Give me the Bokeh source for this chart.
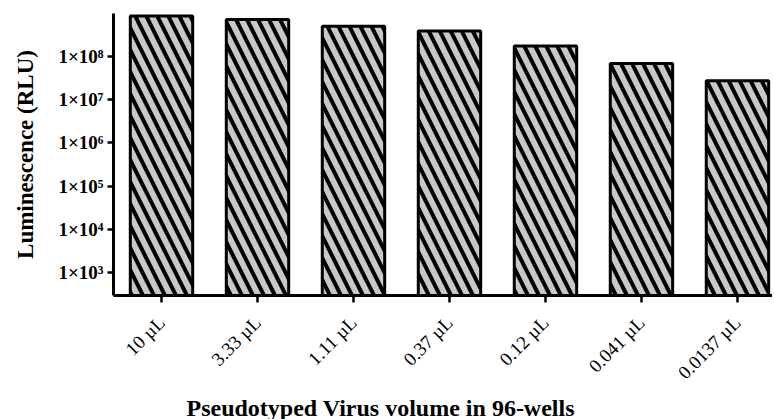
import math
from bokeh.plotting import figure
from bokeh.models import Range1d, FixedTicker, Title, ColumnDataSource
from bokeh.embed import file_html
from bokeh.resources import INLINE

categories = ["10 µL", "3.33 µL", "1.11 µL", "0.37 µL", "0.12 µL", "0.041 µL", "0.0137 µL"]
luminescence = [8.7e8, 7.2e8, 5.0e8, 3.9e8, 1.75e8, 6.9e7, 2.75e7]
y_ticks = [1000, 10000, 100000, 1000000, 10000000, 100000000]
y_tick_labels = ["1×10³", "1×10⁴", "1×10⁵", "1×10⁶", "1×10⁷", "1×10⁸"]

xs = list(range(len(categories)))
src = ColumnDataSource(dict(x=xs, top=luminescence, bottom=[1.0] * len(xs)))

p = figure(width=772, height=419, y_axis_type="log",
           x_range=Range1d(-0.5, 6.365), y_range=Range1d(294, 9.9e8),
           output_backend="svg", toolbar_location=None,
           min_border_left=113, min_border_right=0, min_border_top=13, min_border_bottom=124)

p.vbar(x="x", top="top", bottom="bottom", width=0.65, source=src,
       fill_color="#c8c8c8", line_color="black", line_width=3,
       hatch_pattern="\\", hatch_color="black", hatch_scale=22, hatch_weight=4)

p.outline_line_color = None
p.xgrid.visible = False
p.ygrid.visible = False

serif = "Liberation Serif"

xa = p.xaxis[0]
xa.ticker = FixedTicker(ticks=xs)
xa.major_label_overrides = {i: c for i, c in zip(xs, categories)}
xa.major_label_orientation = math.pi / 4
xa.major_label_text_font = serif
xa.major_label_text_font_size = "19px"
xa.major_label_text_color = "black"
xa.axis_line_width = 3
xa.axis_line_color = "black"
xa.major_tick_in = 0
xa.major_tick_out = 7
xa.major_tick_line_width = 2.5
xa.minor_tick_line_color = None
xa.major_label_standoff = 17

ya = p.yaxis[0]
ya.ticker = FixedTicker(ticks=y_ticks, minor_ticks=[])
ya.major_label_overrides = {t: l for t, l in zip(y_ticks, y_tick_labels)}
ya.major_label_text_font = serif
ya.major_label_text_font_style = "bold"
ya.major_label_text_font_size = "19px"
ya.major_label_text_color = "black"
ya.axis_line_width = 3
ya.axis_line_color = "black"
ya.major_tick_in = 0
ya.major_tick_out = 6
ya.major_tick_line_width = 2.5
ya.minor_tick_line_color = None
ya.major_label_standoff = 4
ya.axis_label = "Luminescence (RLU)"
ya.axis_label_text_font = serif
ya.axis_label_text_font_style = "bold"
ya.axis_label_text_font_size = "23px"
ya.axis_label_text_color = "black"
ya.axis_label_standoff = 17

p.add_layout(Title(text="Pseudotyped Virus volume in 96-wells", align="left", offset=73,
                   text_font=serif, text_font_style="bold", text_font_size="24px",
                   text_color="black", standoff=-2), "below")

open("out.html", "w").write(file_html(p, INLINE))
